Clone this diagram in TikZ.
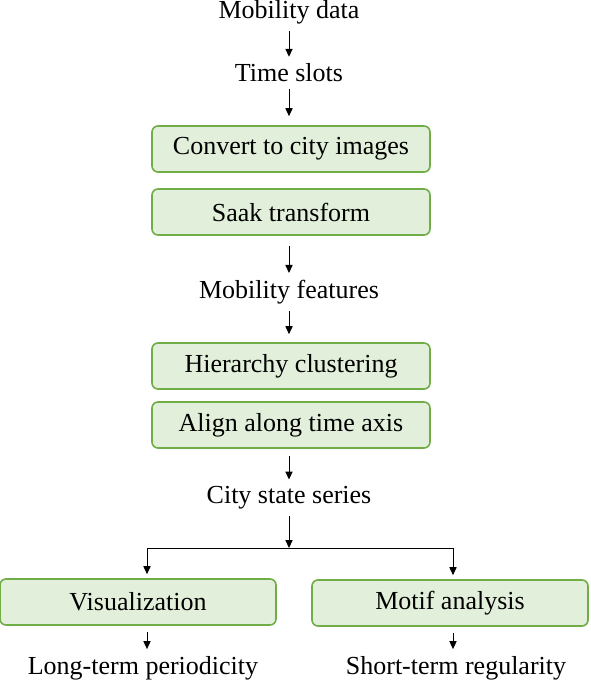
\documentclass[tikz,border=0pt]{standalone}
\usepackage{fontspec}
\setmainfont{Liberation Serif}
\usepackage{xcolor}
\usepackage{tikz}
\usetikzlibrary{shapes,arrows,arrows.meta,positioning,calc}

\definecolor{boxfill}{HTML}{E2EFDA}
\definecolor{boxline}{HTML}{70AD47}

\begin{document}
\begin{tikzpicture}[
    x=0.5pt, y=-0.5pt,
    font=\fontsize{13}{15}\selectfont,
    box/.style={rectangle, rounded corners=3pt, draw=boxline, fill=boxfill, line width=0.8pt, minimum width=139pt, minimum height=23pt, align=center},
    wide/.style={box, minimum width=138pt},
    label/.style={align=center},
    arrow/.style={-{Triangle[length=4pt,width=3.6pt]}, line width=0.5pt}
]
    \useasboundingbox (0,0) rectangle (590,684);

    \node[label] (data) at (289,12) {Mobility data};
    \node[label] (slots) at (289,73) {Time slots};
    \node[box] (convert) at (291,149) {Convert to city images};
    \node[box] (saak) at (291,212) {Saak transform};
    \node[label] (features) at (289,292) {Mobility features};
    \node[box] (cluster) at (291,366) {Hierarchy clustering};
    \node[box] (align) at (291,425) {Align along time axis};
    \node[label] (series) at (289,498) {City state series};
    \node[wide] (vis) at (138,602) {Visualization};
    \node[wide] (motif) at (450,603) {Motif analysis};
    \node[label] (long) at (143,668) {Long-term periodicity};
    \node[label] (short) at (456,668) {Short-term regularity};

    \coordinate (split) at (289,548);
    \coordinate (left) at (147,548);
    \coordinate (right) at (453,548);

    \draw[arrow] (data) -- (slots);
    \draw[arrow, shorten >=4.5pt] (slots) -- (slots |- convert.north);
    \draw[arrow, shorten <=5pt] (saak.south -| features) -- (features);
    \draw[arrow, shorten >=4pt] (features) -- (features |- cluster.north);
    \draw[arrow, shorten <=3.5pt] (align.south -| series) -- (series);
    \draw[arrow] (series) -- (split);
    \draw[line width=0.5pt] (left) -- (right);
    \draw[arrow, shorten >=2pt] (left) -- (left |- vis.north);
    \draw[arrow, shorten >=2pt] (right) -- (right |- motif.north);
    \draw[arrow, shorten <=3pt] (vis.south -| left) -- (left |- long.north);
    \draw[arrow, shorten <=3pt] (motif.south -| right) -- (right |- short.north);
\end{tikzpicture}
\end{document}
